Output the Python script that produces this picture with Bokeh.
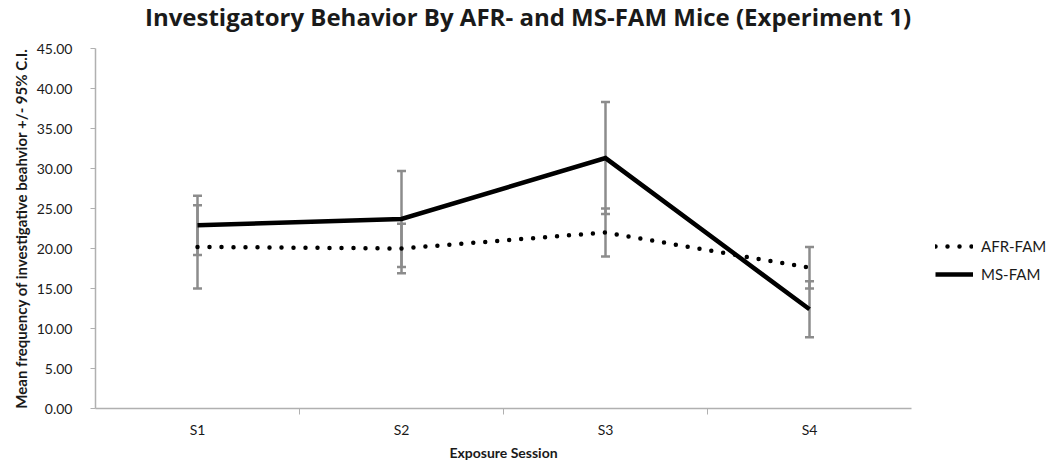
from bokeh.plotting import figure
from bokeh.layouts import row, column
from bokeh.models import (ColumnDataSource, Whisker, TeeHead, FixedTicker,
                          NumeralTickFormatter, Legend, LegendItem, Div)
from bokeh.embed import file_html
from bokeh.resources import INLINE

title_text = "Investigatory Behavior By AFR- and MS-FAM Mice (Experiment 1)"
sessions = ["S1", "S2", "S3", "S4"]
afr_mean = [20.2, 20.0, 22.0, 17.6]
afr_ci = [5.2, 3.1, 3.0, 2.6]
ms_mean = [22.9, 23.7, 31.3, 12.4]
ms_ci = [3.7, 6.0, 7.0, 3.5]
y_ticks = [0, 5, 10, 15, 20, 25, 30, 35, 40, 45]
series_names = ["AFR-FAM", "MS-FAM"]

xs = list(range(1, len(sessions) + 1))
bounds = [x + 0.5 for x in xs[:-1]]

FONT = "Lato"
TXT = "#1a1a1a"
GRAY = "#8c8c8c"
AX = "#b0b0b0"

HEAD = 40
H = 468 - HEAD

header = Div(text=title_text, width=1056, height=HEAD,
             styles={"font-family": "Open Sans", "font-weight": "bold",
                     "font-size": "24px", "line-height": "34px",
                     "text-align": "center", "color": TXT,
                     "width": "1056px", "margin": "0", "padding": "0",
                     "white-space": "nowrap"})

p = figure(width=925, height=H, x_range=(0.5, len(sessions) + 0.5), y_range=(0, 45),
           output_backend="svg", toolbar_location=None,
           min_border_left=95, min_border_right=14, min_border_top=8, min_border_bottom=60)
p.outline_line_color = None
p.xgrid.grid_line_color = None
p.ygrid.grid_line_color = None

afr_src = ColumnDataSource(dict(x=xs, y=afr_mean,
                                lo=[m - c for m, c in zip(afr_mean, afr_ci)],
                                hi=[m + c for m, c in zip(afr_mean, afr_ci)]))
ms_src = ColumnDataSource(dict(x=xs, y=ms_mean,
                               lo=[m - c for m, c in zip(ms_mean, ms_ci)],
                               hi=[m + c for m, c in zip(ms_mean, ms_ci)]))

for src in (afr_src, ms_src):
    w = Whisker(source=src, base="x", lower="lo", upper="hi", dimension="height",
                line_color=GRAY, line_width=2.5, level="underlay",
                lower_head=TeeHead(size=9, line_color=GRAY, line_width=2.5),
                upper_head=TeeHead(size=9, line_color=GRAY, line_width=2.5))
    p.add_layout(w)

afr_style = dict(line_color="black", line_width=4.5, line_dash="0 12", line_cap="round")
ms_style = dict(line_color="black", line_width=4.5, line_join="miter")
p.line("x", "y", source=afr_src, **afr_style)
p.line("x", "y", source=ms_src, **ms_style)

# x axis
xa = p.xaxis[0]
xa.ticker = FixedTicker(ticks=xs, minor_ticks=bounds)
xa.major_label_overrides = {x: s for x, s in zip(xs, sessions)}
xa.major_tick_out = 0
xa.major_tick_in = 0
xa.minor_tick_out = 6
xa.minor_tick_in = 0
xa.minor_tick_line_color = AX
xa.axis_line_color = AX
xa.axis_line_width = 1.5
xa.major_label_text_font = FONT
xa.major_label_text_font_size = "14px"
xa.major_label_text_color = TXT
xa.major_label_standoff = 6
xa.axis_label = "Exposure Session"
xa.axis_label_text_font = FONT
xa.axis_label_text_font_size = "14px"
xa.axis_label_text_font_style = "bold"
xa.axis_label_text_color = TXT
xa.axis_label_standoff = 3

# y axis
ya = p.yaxis[0]
ya.ticker = FixedTicker(ticks=y_ticks)
ya.formatter = NumeralTickFormatter(format="0.00")
ya.major_tick_out = 5
ya.major_tick_in = 0
ya.minor_tick_out = 0
ya.major_tick_line_color = AX
ya.axis_line_color = AX
ya.axis_line_width = 1.5
ya.major_label_text_font = FONT
ya.major_label_text_font_size = "14px"
ya.major_label_text_color = TXT
ya.major_label_standoff = 18
ya.axis_label = "Mean frequency of investigative beahvior +/- 95% C.I."
ya.axis_label_text_font = FONT
ya.axis_label_text_font_size = "15px"
ya.axis_label_text_font_style = "bold"
ya.axis_label_text_color = TXT
ya.axis_label_standoff = 4

# legend panel on the right (keys drawn from the series data, outside its view)
p2 = figure(width=131, height=H, x_range=(100, 101), y_range=(100, 101),
            output_backend="svg", toolbar_location=None, min_border=0)
p2.axis.visible = False
p2.grid.visible = False
p2.outline_line_color = None
l_afr = p2.line(x=xs, y=afr_mean, **afr_style)
l_ms = p2.line(x=xs, y=ms_mean, **ms_style)
legend = Legend(items=[LegendItem(label=series_names[0], renderers=[l_afr]),
                       LegendItem(label=series_names[1], renderers=[l_ms])],
                location=(10, 124), border_line_color=None, background_fill_alpha=0,
                label_text_font=FONT, label_text_font_size="15px", label_text_color=TXT,
                glyph_width=38, glyph_height=20, label_height=20, spacing=8,
                padding=0, margin=0, label_standoff=8)
p2.add_layout(legend, "center")

layout = column(header, row(p, p2, spacing=0), spacing=0)
open("out.html", "w").write(file_html(layout, INLINE))
